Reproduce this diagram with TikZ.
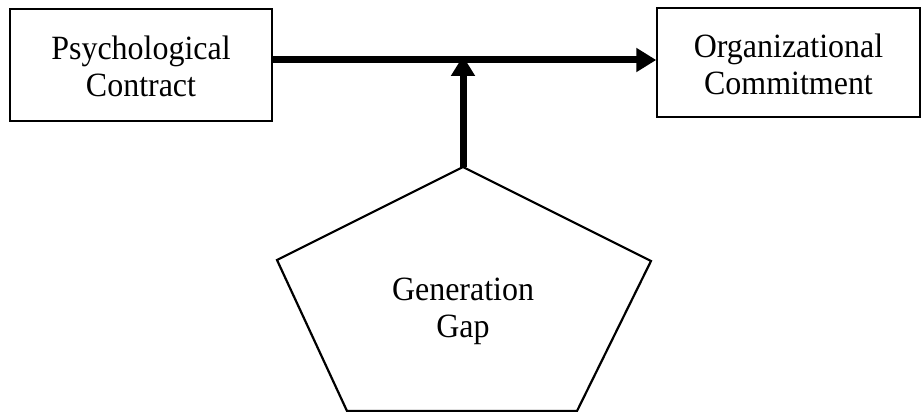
\documentclass[tikz,border=0pt]{standalone}
\usepackage{fontspec}
\setmainfont{Liberation Serif}[FakeStretch=0.94]
\usetikzlibrary{arrows.meta}
\begin{document}
\begin{tikzpicture}[x=1pt,y=-1pt,
  box/.style={draw, line width=1.5pt, inner sep=0pt},
  lbl/.style={align=center, font=\fontsize{34}{37}\selectfont},
  thickarrow/.style={line width=7pt, -{Triangle[length=20pt,width=23pt]}}]
\useasboundingbox (0,0) rectangle (924,412);
\node[box, minimum width=262pt, minimum height=112pt] (pc) at (141,65) {};
\node[lbl] (pctext) at (141,66) {Psychological\\Contract};
\node[box, minimum width=263pt, minimum height=109pt] (oc) at (788.5,62.5) {};
\node[lbl] (octext) at (788.5,64) {Organizational\\Commitment};
\coordinate (ptop) at (463,167);
\coordinate (pright) at (651,261);
\coordinate (pbr) at (577,411);
\coordinate (pbl) at (347,411);
\coordinate (pleft) at (277,260);
\draw[line width=2.2pt, line join=miter] (ptop) -- (pright) -- (pbr) -- (pbl) -- (pleft) -- cycle;
\node[lbl] (gg) at (463,311) {Generation\\Gap};
\coordinate (mid) at (463,60);
\draw[thickarrow] (pc.east |- mid) -- (oc.west |- mid);
\draw[thickarrow, shorten >=-0.5pt] (ptop) -- ([yshift=3.5pt]mid);
\end{tikzpicture}
\end{document}
